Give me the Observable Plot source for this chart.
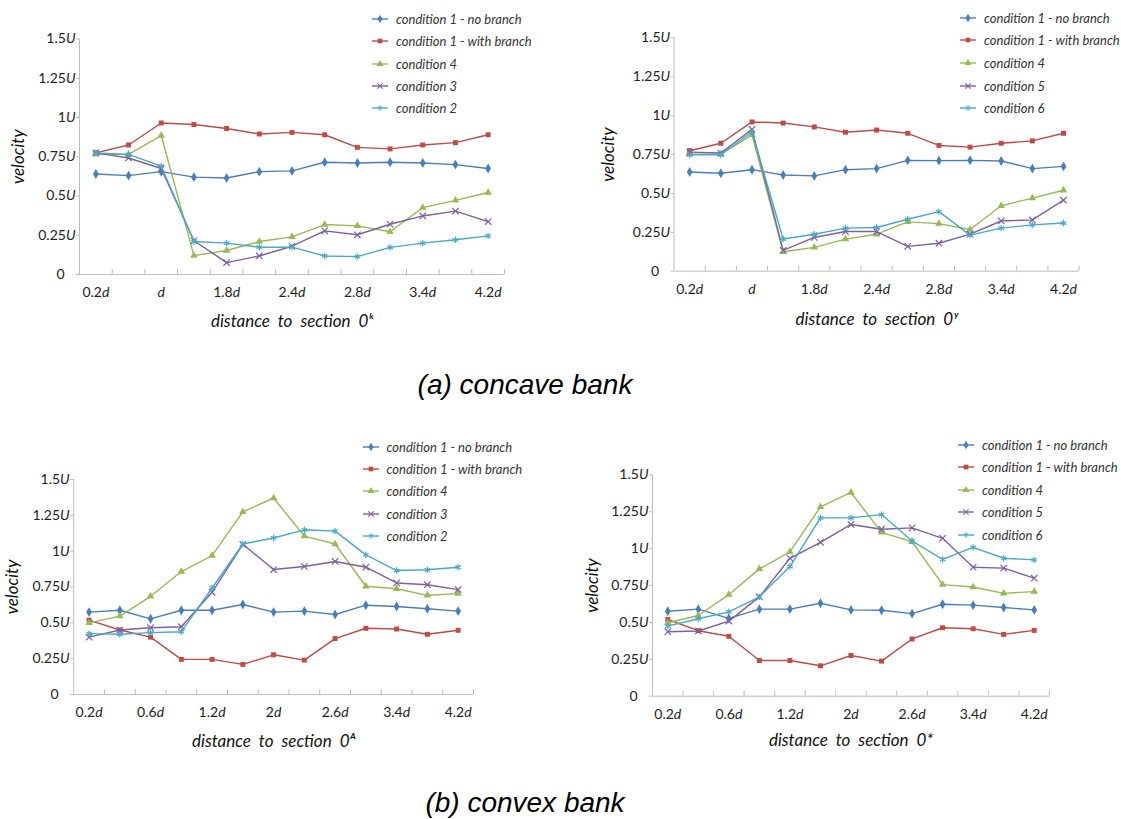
<!DOCTYPE html>
<html>
<head>
<meta charset="utf-8">
<script src="https://cdn.jsdelivr.net/npm/d3@7"></script>
<script src="https://cdn.jsdelivr.net/npm/@observablehq/plot@0.6"></script>
<style>
  html, body { margin: 0; padding: 0; background: #fff; }
  #root { position: relative; width: 1121px; height: 819px; overflow: hidden; background: #fff; font-family: Lato, sans-serif; }
  .panel { position: absolute; }
  .lrow { position: absolute; display: flex; align-items: center; height: 18px; white-space: nowrap;
          font: italic 13px Lato, sans-serif; color: #333; }
  .lrow svg { margin-right: 8px; overflow: visible; }
  .caption { position: absolute; width: 400px; text-align: center; font: italic 28px "Liberation Sans", Arial, sans-serif;
             line-height: 28px; color: #000; white-space: nowrap; }
</style>
</head>
<body>
<div id="root"></div>
<script>
// ---------- data ----------
const stations = [0, 1, 2, 3, 4, 5, 6, 7, 8, 9, 10, 11, 12];
const xTickLabelsTop = ["0.2d", "", "d", "", "1.8d", "", "2.4d", "", "2.8d", "", "3.4d", "", "4.2d"];
const xTickLabelsBottom = ["0.2d", "", "0.6d", "", "1.2d", "", "2d", "", "2.6d", "", "3.4d", "", "4.2d"];
const yTicks = [0, 0.25, 0.5, 0.75, 1, 1.25, 1.5];
const yTickLabels = ["0", "0.25U", "0.5U", "0.75U", "1U", "1.25U", "1.5U"];

const seriesColors = ["#4a7ebb", "#be4b48", "#98b954", "#7d60a0", "#46aac5"];
const seriesSymbols = ["diamond", "square", "triangle", "times", "asterisk"];

const legendLeftPanels = ["condition 1 - no branch", "condition 1 - with branch", "condition 4", "condition 3", "condition 2"];
const legendRightPanels = ["condition 1 - no branch", "condition 1 - with branch", "condition 4", "condition 5", "condition 6"];

// (a) concave bank, left chart
const concaveL_noBranch   = [0.64, 0.63, 0.655, 0.62, 0.615, 0.655, 0.66, 0.715, 0.71, 0.715, 0.71, 0.70, 0.675];
const concaveL_withBranch = [0.775, 0.825, 0.965, 0.955, 0.93, 0.895, 0.905, 0.89, 0.81, 0.80, 0.825, 0.84, 0.89];
const concaveL_cond4      = [0.765, 0.765, 0.885, 0.12, 0.153, 0.21, 0.24, 0.318, 0.31, 0.272, 0.426, 0.472, 0.522];
const concaveL_cond3      = [0.775, 0.742, 0.675, 0.215, 0.076, 0.118, 0.18, 0.278, 0.253, 0.32, 0.373, 0.404, 0.337];
const concaveL_cond2      = [0.775, 0.765, 0.69, 0.21, 0.2, 0.174, 0.174, 0.118, 0.114, 0.173, 0.2, 0.221, 0.246];

// (a) concave bank, right chart
const concaveR_noBranch   = [0.638, 0.63, 0.653, 0.619, 0.613, 0.653, 0.66, 0.713, 0.711, 0.713, 0.709, 0.66, 0.674];
const concaveR_withBranch = [0.775, 0.823, 0.96, 0.953, 0.928, 0.894, 0.908, 0.887, 0.809, 0.798, 0.823, 0.838, 0.887];
const concaveR_cond4      = [0.753, 0.753, 0.877, 0.125, 0.153, 0.206, 0.238, 0.317, 0.306, 0.268, 0.421, 0.47, 0.521];
const concaveR_cond5      = [0.766, 0.76, 0.912, 0.134, 0.217, 0.255, 0.255, 0.16, 0.18, 0.238, 0.323, 0.33, 0.457];
const concaveR_cond6      = [0.749, 0.749, 0.895, 0.207, 0.238, 0.277, 0.281, 0.334, 0.383, 0.232, 0.277, 0.298, 0.31];

// (b) convex bank, left chart
const convexL_noBranch   = [0.575, 0.588, 0.528, 0.588, 0.588, 0.628, 0.575, 0.582, 0.558, 0.623, 0.614, 0.598, 0.582];
const convexL_withBranch = [0.519, 0.45, 0.40, 0.245, 0.245, 0.21, 0.277, 0.24, 0.39, 0.462, 0.457, 0.42, 0.448];
const convexL_cond4      = [0.50, 0.547, 0.685, 0.858, 0.969, 1.274, 1.371, 1.105, 1.05, 0.755, 0.738, 0.692, 0.704];
const convexL_cond3      = [0.40, 0.45, 0.466, 0.473, 0.713, 1.048, 0.872, 0.893, 0.928, 0.888, 0.778, 0.766, 0.732];
const convexL_cond2      = [0.425, 0.42, 0.432, 0.438, 0.743, 1.05, 1.092, 1.149, 1.14, 0.974, 0.865, 0.87, 0.888];

// (b) convex bank, right chart
const convexR_noBranch   = [0.576, 0.59, 0.527, 0.59, 0.59, 0.63, 0.585, 0.583, 0.56, 0.623, 0.617, 0.601, 0.585];
const convexR_withBranch = [0.52, 0.444, 0.406, 0.242, 0.242, 0.206, 0.276, 0.238, 0.388, 0.464, 0.457, 0.419, 0.446];
const convexR_cond4      = [0.498, 0.547, 0.688, 0.863, 0.978, 1.283, 1.381, 1.11, 1.047, 0.756, 0.74, 0.697, 0.709];
const convexR_cond5      = [0.437, 0.442, 0.509, 0.673, 0.935, 1.043, 1.164, 1.132, 1.141, 1.07, 0.874, 0.868, 0.80];
const convexR_cond6      = [0.475, 0.525, 0.572, 0.673, 0.879, 1.209, 1.209, 1.231, 1.052, 0.928, 1.009, 0.935, 0.924];

const captionA = "(a) concave bank";
const captionB = "(b) convex bank";

// ---------- layout ----------
const panels = [
  { left: 0, top: 0, width: 560, height: 340, mL: 79, mR: 56, mT: 38.5, mB: 66,
    ticks: xTickLabelsTop, xTitle: "distance to section 0\u1D4F", xOff: 43, yOff: 59,
    legend: legendLeftPanels, lx: 372, ly: 19, ldy: 22.3,
    series: [concaveL_noBranch, concaveL_withBranch, concaveL_cond4, concaveL_cond3, concaveL_cond2] },
  { left: 560, top: 0, width: 561, height: 340, mL: 113.6, mR: 42.4, mT: 37.5, mB: 69.3,
    ticks: xTickLabelsTop, xTitle: "distance to section 0\u02B8", xOff: 45, yOff: 63.6,
    legend: legendRightPanels, lx: 960, ly: 17.6, ldy: 22.7,
    series: [concaveR_noBranch, concaveR_withBranch, concaveR_cond4, concaveR_cond5, concaveR_cond6] },
  { left: 0, top: 420, width: 560, height: 340, mL: 73.2, mR: 87, mT: 59, mB: 66,
    ticks: xTickLabelsBottom, xTitle: "distance to section 0\u1D2C", xOff: 43.5, yOff: 59,
    legend: legendLeftPanels, lx: 362.5, ly: 447, ldy: 22.2,
    series: [convexL_noBranch, convexL_withBranch, convexL_cond4, convexL_cond3, convexL_cond2] },
  { left: 560, top: 420, width: 561, height: 340, mL: 92, mR: 72, mT: 54.4, mB: 64.3,
    ticks: xTickLabelsBottom, xTitle: "distance to section 0*", xOff: 41, yOff: 58,
    legend: legendRightPanels, lx: 958, ly: 445, ldy: 22.4,
    series: [convexR_noBranch, convexR_withBranch, convexR_cond4, convexR_cond5, convexR_cond6] }
];

const root = document.getElementById("root");
const axisGray = "#bdbdbd";

function seriesMarks(values, k) {
  const rows = stations.map((s, i) => ({ s, v: values[i] }));
  const sym = seriesSymbols[k];
  const stroked = sym === "times" || sym === "asterisk";
  return [
    Plot.line(rows, { x: "s", y: "v", stroke: seriesColors[k], strokeWidth: 1.4 }),
    Plot.dot(rows, stroked
      ? { x: "s", y: "v", symbol: sym, r: 3, stroke: seriesColors[k], strokeWidth: 1.2, fill: "none" }
      : { x: "s", y: "v", symbol: sym, r: sym === "diamond" ? 3 : 2.8, fill: seriesColors[k], stroke: "none" })
  ];
}

panels.forEach(p => {
  const chart = Plot.plot({
    width: p.width, height: p.height,
    marginLeft: p.mL, marginRight: p.mR, marginTop: p.mT, marginBottom: p.mB,
    style: { fontFamily: "Lato, sans-serif", fontSize: "14px", color: "#222", background: "transparent", overflow: "visible" },
    x: { type: "linear", domain: [-0.5, 12.5] },
    y: { domain: [0, 1.5] },
    marks: [
      Plot.ruleY([0], { stroke: axisGray }),
      Plot.ruleX([-0.5], { stroke: axisGray }),
      Plot.axisX(d3.range(0.5, 13, 1), { tickSize: -5, stroke: axisGray, tickFormat: () => "", label: null }),
      Plot.axisX(stations.filter(s => p.ticks[s] !== ""), {
        tickSize: 0, tickPadding: 13, tickFormat: s => p.ticks[s],
        label: p.xTitle, labelAnchor: "center", labelOffset: p.xOff + 9, labelArrow: "none"
      }),
      Plot.axisY(yTicks, {
        tickSize: 3, tickPadding: 1, stroke: axisGray,
        tickFormat: v => yTickLabels[yTicks.indexOf(v)],
        label: "velocity", labelAnchor: "center", labelOffset: p.yOff + 9, labelArrow: "none"
      }),
      ...p.series.flatMap((vals, k) => seriesMarks(vals, k))
    ]
  });

  const svg = d3.select(chart);
  // italic unit letters in tick labels
  svg.selectAll('g[aria-label="x-axis tick label"] text, g[aria-label="y-axis tick label"] text').each(function () {
    const t = d3.select(this);
    const s = t.text();
    const m = s.match(/^(.*?)([dU])$/);
    if (m) {
      t.text("");
      if (m[1]) t.append("tspan").text(m[1]);
      t.append("tspan").attr("font-style", "italic").text(m[2]);
    } else if (s === "0" && this.parentNode.getAttribute("aria-label") === "y-axis tick label") {
      t.attr("transform", (t.attr("transform") || "") + " translate(-11,0)");
    }
  });
  svg.selectAll('g[aria-label="x-axis tick label"], g[aria-label="y-axis tick label"]').attr("fill", "#222");
  svg.selectAll('g[aria-label="x-axis label"] text, g[aria-label="y-axis label"] text')
    .attr("font-style", "italic").attr("font-size", "17px").attr("fill", "#111");
  svg.selectAll('g[aria-label="x-axis label"] text').attr("word-spacing", "4px");

  const holder = document.createElement("div");
  holder.className = "panel";
  holder.style.left = p.left + "px";
  holder.style.top = p.top + "px";
  holder.appendChild(chart);
  root.appendChild(holder);

  // legend
  p.legend.forEach((lab, k) => {
    const row = d3.select(root).append("div").attr("class", "lrow")
      .style("left", p.lx + "px").style("top", (p.ly + k * p.ldy - 9) + "px");
    const sw = row.append("svg").attr("width", 16).attr("height", 10);
    sw.append("line").attr("x1", 0).attr("x2", 16).attr("y1", 5).attr("y2", 5)
      .attr("stroke", seriesColors[k]).attr("stroke-width", 1.4);
    const symType = { diamond: d3.symbolDiamond, square: d3.symbolSquare, triangle: d3.symbolTriangle,
                      times: d3.symbolTimes, asterisk: d3.symbolAsterisk }[seriesSymbols[k]];
    const stroked = seriesSymbols[k] === "times" || seriesSymbols[k] === "asterisk";
    sw.append("path").attr("transform", "translate(8,5)")
      .attr("d", d3.symbol(symType, stroked ? 20 : 22)())
      .attr("fill", stroked ? "none" : seriesColors[k])
      .attr("stroke", stroked ? seriesColors[k] : "none").attr("stroke-width", 1.1);
    row.append("span").text(lab);
  });
});

// captions
d3.select(root).append("div").attr("class", "caption").style("left", "325px").style("top", "371px").text(captionA);
d3.select(root).append("div").attr("class", "caption").style("left", "325px").style("top", "789px").text(captionB);
</script>
</body>
</html>
